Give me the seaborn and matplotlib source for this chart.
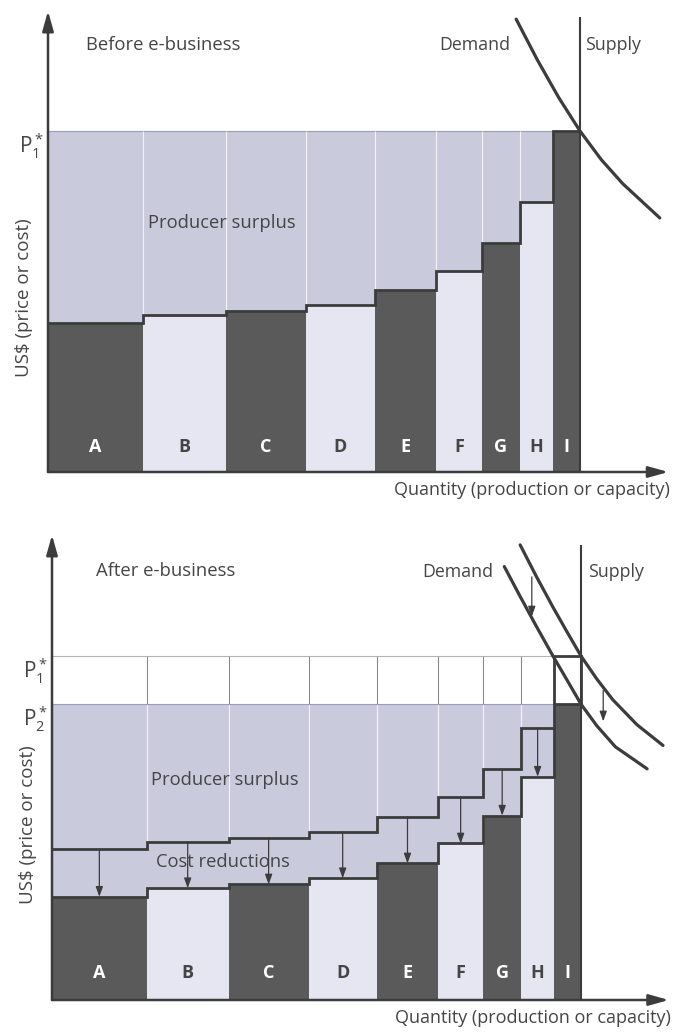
import numpy as np
import matplotlib
matplotlib.use('Agg')
import matplotlib.pyplot as plt
import seaborn as sns

# firms along the supply curve, widths = capacity, heights = unit cost
firms = ['A', 'B', 'C', 'D', 'E', 'F', 'G', 'H', 'I']
firm_edges = [0, 17.9, 33.4, 48.5, 61.4, 73.0, 81.5, 88.7, 94.9, 100.0]
cost_before = [43.8, 46.0, 47.2, 48.9, 53.3, 59.0, 67.1, 79.1, 100.0]
cost_after = [30.0, 32.5, 33.6, 35.4, 39.7, 45.5, 53.6, 64.9, 86.0]
dark_firms = ['A', 'C', 'E', 'G', 'I']
p1 = 100.0
p2 = 86.0

# demand curves
demand_top_q = [88.0, 92.0, 96.0, 100.0, 104.0, 108.0, 115.0]
demand_top_p = [132.8, 120.8, 109.8, 100.0, 91.6, 84.6, 74.5]
demand_old_q = [88.5, 91.5, 94.7, 97.4, 100.0, 103.0, 106.0, 110.6, 115.5]
demand_old_p = [132.3, 123.3, 114.2, 106.9, 100.0, 93.3, 87.3, 80.0, 74.0]
demand_new_q = [85.5, 88.5, 91.5, 94.7, 97.4, 100.0, 103.0, 106.5, 112.5]
demand_new_p = [126.0, 117.3, 108.8, 100.0, 92.9, 86.0, 79.7, 73.6, 67.2]
supply_top = [133.4, 132.3]

# shift arrows between the two demand curves (q, from p, to p)
shift_arrows = [(90.7, 123.0, 111.5), (104.2, 90.0, 81.0)]

dark_col = '#5a5a5a'
light_col = '#e6e6f2'
surplus_col = '#cacadd'
line_col = '#3c3c3c'
text_col = '#454545'

sns.set_theme(style='white')
plt.rcParams['font.family'] = ['Open Sans', 'DejaVu Sans']
plt.rcParams['mathtext.default'] = 'regular'

fig = plt.figure(figsize=(6.75, 10.34), dpi=100)
ax1 = fig.add_axes([48 / 675, (1034 - 472) / 1034, 117 * 5.32 / 675, 136 * 3.41 / 1034])
ax2 = fig.add_axes([52 / 675, 34 / 1034, 117 * 5.29 / 675, 136 * 3.44 / 1034])

edges = np.array(firm_edges)
widths = np.diff(edges)
bar_cols = [dark_col if f in dark_firms else light_col for f in firms]


def draw_axes(ax):
    ax.set_xlim(0, 117)
    ax.set_ylim(0, 136)
    ax.axis('off')
    arrow = dict(arrowstyle='-|>,head_length=1.0,head_width=0.28', lw=1.8,
                 color=line_col, shrinkA=0, shrinkB=0)
    ax.annotate('', xy=(116.6, 0), xytext=(0, 0), arrowprops=arrow)
    ax.annotate('', xy=(0, 135.2), xytext=(0, 0), arrowprops=arrow)


def draw_letters(ax, y):
    for i, f in enumerate(firms):
        c = 'white' if f in dark_firms else text_col
        ax.text(edges[i] + widths[i] / 2, y, f, ha='center', va='center',
                fontsize=13, fontweight='bold', color=c, zorder=6)


def draw_labels(ax, xlab_x):
    ax.text(116.9, -5.2, 'Quantity (production or capacity)', ha='right',
            va='center', fontsize=13, color=text_col)
    ax.text(xlab_x, 51, 'US$ (price or cost)', rotation=90, ha='center',
            va='center', fontsize=13.5, color=text_col)


# ---------- top: before e-business ----------
ax1.bar(0, p1, width=edges[-1], align='edge', color=surplus_col, lw=0, zorder=1)
ax1.bar(edges[:-1], cost_before, width=widths, align='edge', color=bar_cols, lw=0, zorder=2)
ax1.hlines(p1, 0, edges[-2], color='#9c9cb4', lw=0.8, zorder=2)
seps = edges[1:-2]
low = [max(cost_before[i], cost_before[i + 1]) for i in range(len(seps))]
ax1.vlines(seps, low, p1, color='white', lw=0.8, alpha=0.8, zorder=2)
ax1.stairs(cost_before, edges, baseline=None, color=line_col, lw=2, zorder=4)
ax1.vlines(edges[-1], 0, supply_top[0], color=line_col, lw=1.5, zorder=4)
sns.lineplot(x=demand_top_q, y=demand_top_p, sort=False, estimator=None,
             color=line_col, lw=2.3, ax=ax1, zorder=5)
draw_axes(ax1)
draw_letters(ax1, 7.3)
draw_labels(ax1, -4.5)
ax1.text(7.1, 125.2, 'Before e-business', ha='left', va='center', fontsize=13.3, color=text_col)
ax1.text(86.9, 125.2, 'Demand', ha='right', va='center', fontsize=12.8, color=text_col)
ax1.text(100.9, 125.2, 'Supply', ha='left', va='center', fontsize=12.8, color=text_col)
ax1.text(18.8, 73, 'Producer surplus', ha='left', va='center', fontsize=13.2, color=text_col)
ax1.text(-0.8, p1 - 0.2, r'$P_1^*$', ha='right', va='top', fontsize=15, color=text_col)

# ---------- bottom: after e-business ----------
ax2.bar(0, p2, width=edges[-1], align='edge', color=surplus_col, lw=0, zorder=1)
ax2.bar(edges[:-1], cost_after, width=widths, align='edge', color=bar_cols, lw=0, zorder=2)
low = [max(cost_before[i], cost_before[i + 1]) for i in range(len(seps))]
ax2.vlines(seps, low, p2, color='white', lw=0.8, alpha=0.8, zorder=2)
ax2.vlines(seps, p2, p1, color='#8a8a8a', lw=0.8, zorder=2)
ax2.hlines(p1, 0, edges[-2], color='#b4b4b4', lw=0.8, zorder=2)
ax2.hlines(p2, 0, edges[-2], color='#9c9cb4', lw=0.8, zorder=2)
ax2.stairs(cost_before[:-1], edges[:-1], baseline=None, color=line_col, lw=2, zorder=4)
ax2.stairs([p1], edges[-2:], baseline=p2, color=line_col, lw=2, zorder=4)
ax2.stairs(cost_after, edges, baseline=None, color=line_col, lw=2, zorder=4)
ax2.vlines(edges[-1], 0, supply_top[1], color=line_col, lw=1.5, zorder=4)
sns.lineplot(x=demand_old_q, y=demand_old_p, sort=False, estimator=None,
             color=line_col, lw=2.3, ax=ax2, zorder=5)
sns.lineplot(x=demand_new_q, y=demand_new_p, sort=False, estimator=None,
             color=line_col, lw=2.3, ax=ax2, zorder=5)
small = dict(arrowstyle='-|>,head_length=0.5,head_width=0.18', lw=0.9,
             color=line_col, shrinkA=0, shrinkB=0)
for i in range(len(firms) - 1):
    xc = edges[i] + widths[i] / 2
    ax2.annotate('', xy=(xc, cost_after[i]), xytext=(xc, cost_before[i]),
                 arrowprops=small, zorder=5)
for q, pa, pb in shift_arrows:
    ax2.annotate('', xy=(q, pb), xytext=(q, pa), arrowprops=small, zorder=5)
draw_axes(ax2)
draw_letters(ax2, 7.8)
draw_labels(ax2, -4.6)
ax2.text(8.3, 124.8, 'After e-business', ha='left', va='center', fontsize=13.3, color=text_col)
ax2.text(83.4, 124.4, 'Demand', ha='right', va='center', fontsize=12.8, color=text_col)
ax2.text(101.3, 124.4, 'Supply', ha='left', va='center', fontsize=12.8, color=text_col)
ax2.text(18.7, 64, 'Producer surplus', ha='left', va='center', fontsize=13.2, color=text_col)
ax2.text(19.6, 40, 'Cost reductions', ha='left', va='center', fontsize=13.2, color=text_col)
ax2.text(-0.8, p1 - 0.2, r'$P_1^*$', ha='right', va='top', fontsize=15, color=text_col)
ax2.text(-0.8, p2 - 0.1, r'$P_2^*$', ha='right', va='top', fontsize=15, color=text_col)

fig.savefig('out.png', dpi=100)
